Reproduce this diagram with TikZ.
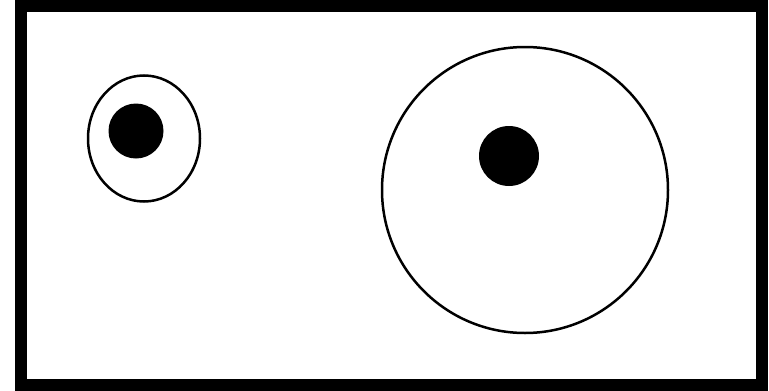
\documentclass[tikz,border=0pt]{standalone}
\usetikzlibrary{calc}
\tikzset{ring/.style={line width=2.5pt}}

\begin{document}
\begin{tikzpicture}[x=1pt,y=-1pt]
  \useasboundingbox (0,0) rectangle (769,391);

  % 坐标点定义
  \coordinate (P) at (144,138.5);
  \coordinate (Q) at (136,131);
  \coordinate (R) at (525,190);
  \coordinate (S) at (509,156);

  % 外框
  \draw[line width=12pt] (21,6) rectangle (761.5,385);

  % 圆与椭圆
  \draw[ring] (P) ellipse (56 and 63);
  \draw[ring] (R) circle (143);

  % 实心点
  \fill[black] (Q) circle (27.5);
  \fill[black] (S) circle (30);
\end{tikzpicture}
\end{document}
